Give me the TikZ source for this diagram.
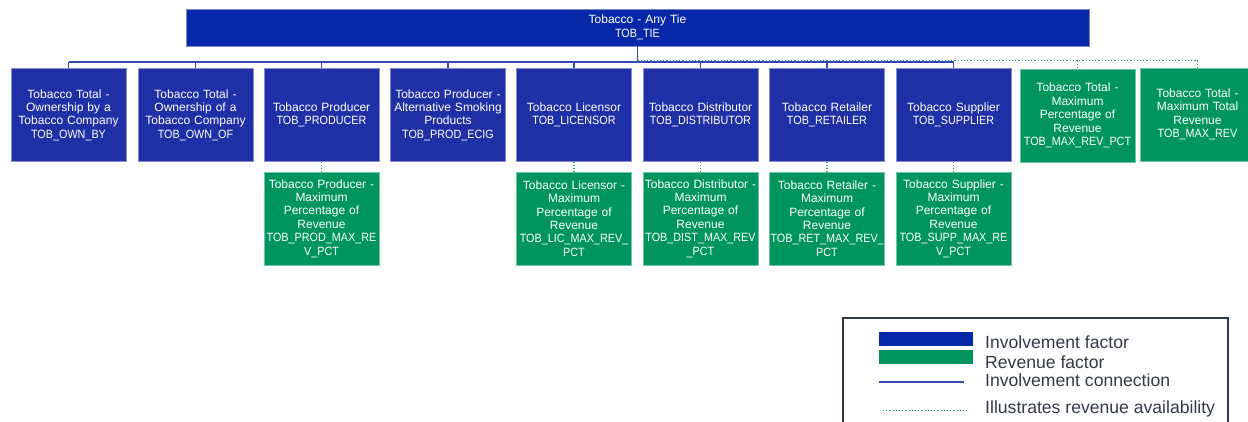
\documentclass[tikz,border=0pt]{standalone}
\usepackage{fontspec}
\setmainfont{Liberation Sans}
\definecolor{topblue}{HTML}{0628A8}
\definecolor{invblue}{HTML}{1F30A6}
\definecolor{revgreen}{HTML}{00955F}
\definecolor{conblue}{HTML}{3548B5}
\definecolor{dotgreen}{HTML}{2E9E6A}
\definecolor{legtext}{HTML}{333A45}
\definecolor{legborder}{HTML}{2E3A48}
\newcommand\idtxt[1]{\scalebox{0.9}[1]{#1}}
\tikzset{
  inv/.style={fill=invblue, draw=invblue!55!white, line width=0.6pt, minimum width=115pt, minimum height=93pt, text width=113pt, inner sep=1pt, text=white, align=center, font=\fontsize{12}{13.4}\selectfont},
  rev/.style={inv, fill=revgreen, draw=revgreen!55!white},
  topbox/.style={inv, fill=topblue, draw=topblue!55!white, minimum width=903pt, text width=900pt, minimum height=37pt},
  conn/.style={draw=conblue, line width=1.5pt},
  avail/.style={draw=dotgreen, line width=1.2pt, dotted},
  legtxt/.style={anchor=west, inner sep=0pt, text=legtext, font=\fontsize{17.6}{19}\selectfont},
}
\begin{document}
\begin{tikzpicture}[x=1pt,y=-1pt]
\clip (0,0) rectangle (1248,422);
% top
\node[topbox] (top) at (637.5,27.5) {Tobacco - Any Tie\\\idtxt{TOB\_TIE}};
% row 1
\node[inv] (b1) at (68.5,115) {Tobacco Total -\\Ownership by a\\Tobacco Company\\\idtxt{TOB\_OWN\_BY}};
\node[inv] (b2) at (195.5,115) {Tobacco Total -\\Ownership of a\\Tobacco Company\\\idtxt{TOB\_OWN\_OF}};
\node[inv] (b3) at (321.5,115) {Tobacco Producer\\\idtxt{TOB\_PRODUCER}};
\node[inv] (b4) at (448,115) {Tobacco Producer -\\Alternative Smoking\\Products\\\idtxt{TOB\_PROD\_ECIG}};
\node[inv] (b5) at (574,115) {Tobacco Licensor\\\idtxt{TOB\_LICENSOR}};
\node[inv] (b6) at (700.5,115) {Tobacco Distributor\\\idtxt{TOB\_DISTRIBUTOR}};
\node[inv] (b7) at (827,115) {Tobacco Retailer\\\idtxt{TOB\_RETAILER}};
\node[inv] (b8) at (953.5,115) {Tobacco Supplier\\\idtxt{TOB\_SUPPLIER}};
\node[rev] (b9) at (1077.5,115.5) {Tobacco Total -\\Maximum\\Percentage of\\Revenue\\\idtxt{TOB\_MAX\_REV\_PCT}};
\node[rev] (b10) at (1197.5,114.5) {Tobacco Total -\\Maximum Total\\Revenue\\\idtxt{TOB\_MAX\_REV}};
% row 2
\node[rev] (r3) at (321.5,218.5) {Tobacco Producer -\\Maximum\\Percentage of\\Revenue\\\idtxt{TOB\_PROD\_MAX\_RE}\\\idtxt{V\_PCT}};
\node[rev] (r5) at (574,218.5) {Tobacco Licensor -\\Maximum\\Percentage of\\Revenue\\\idtxt{TOB\_LIC\_MAX\_REV\_}\\\idtxt{PCT}};
\node[rev] (r6) at (700.5,218.5) {Tobacco Distributor -\\Maximum\\Percentage of\\Revenue\\\idtxt{TOB\_DIST\_MAX\_REV}\\\idtxt{\_PCT}};
\node[rev] (r7) at (827,218.5) {Tobacco Retailer -\\Maximum\\Percentage of\\Revenue\\\idtxt{TOB\_RET\_MAX\_REV\_}\\\idtxt{PCT}};
\node[rev] (r8) at (953.5,218.5) {Tobacco Supplier -\\Maximum\\Percentage of\\Revenue\\\idtxt{TOB\_SUPP\_MAX\_RE}\\\idtxt{V\_PCT}};
% connectors
\coordinate (bus) at (637.5,62);
\coordinate (gbus) at (637.5,60.5);
\draw[avail] (top.south |- gbus) -- (b10.north |- gbus);
\draw[avail] (b9.north |- gbus) -- (b9.north);
\draw[avail] (b10.north |- gbus) -- (b10.north);
\draw[conn] (top.south) -- (top.south |- bus);
\draw[conn] (b1.north |- bus) -- (b8.north |- bus);
\foreach \n in {b1,b2,b3,b4,b5,b6,b7,b8}{
  \draw[conn] (\n.north |- bus) -- (\n.north);
}
\foreach \a/\b in {b3/r3,b5/r5,b6/r6,b7/r7,b8/r8}{
  \draw[avail] (\a.south) -- (\b.north);
}
% legend
\node[draw=legborder, line width=1.5pt, minimum width=385pt, minimum height=115pt, inner sep=0pt, anchor=north west] (leg) at (842,317) {};
\fill[topblue] (879,332) rectangle (973,346);
\fill[revgreen] (879,350) rectangle (973,364);
\coordinate (l1a) at (879,382);
\coordinate (l1b) at (964,382);
\draw[conn, line width=1.3pt] (l1a) -- (l1b);
\coordinate (l2a) at (883,410);
\coordinate (l2b) at (968,410);
\draw[avail, line width=1pt] (l2a) -- (l2b);
\node[legtxt] (t1) at (985,342) {Involvement factor};
\node[legtxt] (t2) at (985,362) {Revenue factor};
\node[legtxt] (t3) at (985,380) {Involvement connection};
\node[legtxt] (t4) at (985,409) {Illustrates revenue availability};
\end{tikzpicture}
\end{document}
